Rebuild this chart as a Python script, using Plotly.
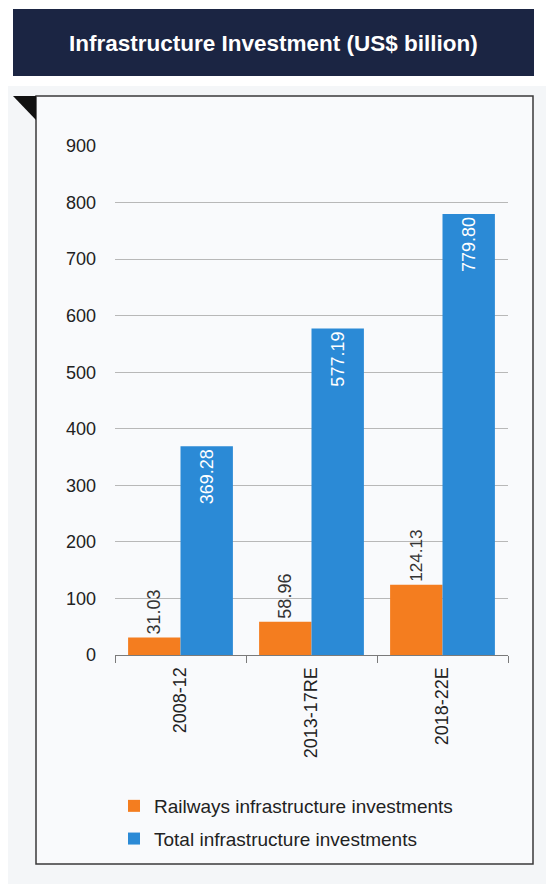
import plotly.graph_objects as go

categories = ["2008-12", "2013-17RE", "2018-22E"]
railways = [31.03, 58.96, 124.13]
total = [369.28, 577.19, 779.80]
railways_labels = ["31.03", "58.96", "124.13"]
total_labels = ["369.28", "577.19", "779.80"]
y_ticks = [0, 100, 200, 300, 400, 500, 600, 700, 800, 900]

W, H = 553, 886
L, R, T, B = 115, 45, 146, 231
PW = W - L - R
PH = H - T - B


def px(x):
    return (x - L) / PW


def py(y):
    return (H - B - y) / PH


FONT = "Liberation Sans, Arial, sans-serif"
ORANGE = "#f47d1f"
BLUE = "#2b8ad6"

fig = go.Figure()
fig.add_trace(go.Bar(
    x=categories, y=railways, name="Railways infrastructure investments",
    marker=dict(color=ORANGE, line=dict(width=0)),
    text=railways_labels, textposition="outside", textangle=-90,
    textfont=dict(family=FONT, size=18, color="#333333"),
    cliponaxis=False, legendgroup="a",
))
fig.add_trace(go.Bar(
    x=categories, y=total, name="Total infrastructure investments",
    marker=dict(color=BLUE, line=dict(width=0)),
    text=total_labels, textposition="inside", insidetextanchor="end", textangle=-90,
    textfont=dict(family=FONT, size=18, color="#ffffff"),
    legendgroup="b",
))

shapes = [
    # faint outer panel
    dict(type="rect", xref="paper", yref="paper", x0=px(8), x1=px(546), y0=py(86), y1=py(884),
         fillcolor="#f4f6f8", line=dict(width=0), layer="below"),
    # inner box
    dict(type="rect", xref="paper", yref="paper", x0=px(36), x1=px(533), y0=py(96), y1=py(864),
         fillcolor="#f9fafc", line=dict(color="#3a3a3a", width=1.5), layer="below"),
    # corner triangle
    dict(type="path", xref="paper", yref="paper",
         path=f"M {px(13)},{py(96)} L {px(36)},{py(96)} L {px(36)},{py(120)} Z",
         fillcolor="#111111", line=dict(width=0), layer="above"),
    # title box
    dict(type="rect", xref="paper", yref="paper", x0=px(13), x1=px(534), y0=py(9), y1=py(76),
         fillcolor="#1b2543", line=dict(width=0), layer="above"),
]

annotations = [
    dict(text="<b>Infrastructure Investment (US$ billion)</b>", xref="paper", yref="paper",
         x=px(273), y=py(43), xanchor="center", yanchor="middle", showarrow=False,
         font=dict(family="Liberation Sans Narrow, Arial Narrow, Liberation Sans, sans-serif",
                   size=22.5, color="#ffffff")),
]

fig.update_layout(
    width=W, height=H,
    margin=dict(l=L, r=R, t=T, b=B, pad=0),
    paper_bgcolor="#ffffff",
    plot_bgcolor="rgba(0,0,0,0)",
    barmode="group", bargap=0.2, bargroupgap=0,
    font=dict(family=FONT, size=18, color="#222222"),
    shapes=shapes, annotations=annotations,
    showlegend=True,
    legend=dict(
        x=px(114), y=py(787), xanchor="left", yanchor="top",
        bgcolor="rgba(0,0,0,0)", borderwidth=0,
        font=dict(family=FONT, size=19, color="#222222"),
        traceorder="grouped", tracegroupgap=5,
    ),
    uniformtext=dict(mode=False),
)

fig.update_xaxes(
    type="category", showgrid=False, showline=True, linecolor="#7a7a7a", linewidth=1,
    ticks="outside", tickson="boundaries", ticklen=7, tickcolor="#7a7a7a",
    tickangle=-90, tickfont=dict(family=FONT, size=18, color="#222222"),
    ticklabelstandoff=4,
)
fig.update_yaxes(
    range=[0, 900], tickvals=y_ticks, ticktext=[str(v) for v in y_ticks],
    showgrid=True, gridcolor="#b8b8b8", gridwidth=1, zeroline=False, showline=False,
    ticks="", tickfont=dict(family=FONT, size=18, color="#222222"),
    ticklabelstandoff=18,
)

fig.write_html("out.html")
